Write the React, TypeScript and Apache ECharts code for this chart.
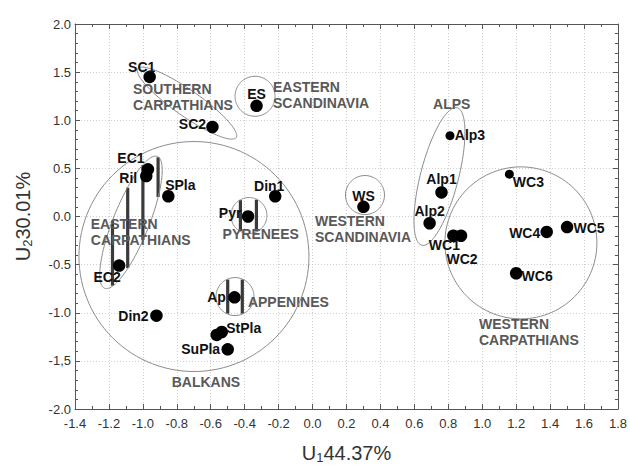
import React, { useEffect, useRef } from 'react';
import * as echarts from 'echarts';

// ---------- axes ----------
const X_MIN = -1.4;
const X_MAX = 1.8;
const X_STEP = 0.2;
const Y_MIN = -2.0;
const Y_MAX = 2.0;
const Y_STEP = 0.5;
const xTickLabels = ['-1.4', '-1.2', '-1.0', '-0.8', '-0.6', '-0.4', '-0.2', '0.0', '0.2', '0.4', '0.6', '0.8', '1.0', '1.2', '1.4', '1.6', '1.8'];
const yTickLabels = ['-2.0', '-1,5', '-1.0', '-0.5', '0.0', '0.5', '1.0', '1.5', '2.0'];
const xAxisName = ['U', '1', '44.37%'];
const yAxisName = ['U', '2', '30.01%'];

// ---------- points ----------
const pointNames = ['SC1', 'ES', 'SC2', 'EC1', 'Ril', 'SPla', 'Din1', 'Pyr', 'WS', 'Alp3', 'Alp1', 'Alp2', 'WC3', 'WC4', 'WC5', 'WC1', 'WC2', 'WC6', 'EC2', 'Ap', 'Din2', 'StPla', '', 'SuPla'];
const pointX = [-0.96, -0.33, -0.59, -0.97, -0.98, -0.85, -0.22, -0.38, 0.30, 0.81, 0.76, 0.69, 1.16, 1.38, 1.50, 0.83, 0.875, 1.20, -1.14, -0.46, -0.92, -0.535, -0.565, -0.50];
const pointY = [1.45, 1.15, 0.93, 0.49, 0.42, 0.21, 0.21, 0.0, 0.10, 0.84, 0.25, -0.07, 0.44, -0.16, -0.11, -0.20, -0.20, -0.59, -0.51, -0.84, -1.03, -1.20, -1.23, -1.38];

// ---------- groups ----------
const groupNames = ['SOUTHERN\nCARPATHIANS', 'EASTERN\nSCANDINAVIA', 'ALPS', 'WESTERN\nSCANDINAVIA', 'EASTERN\nCARPATHIANS', 'PYRENEES', 'APPENINES', 'BALKANS', 'WESTERN\nCARPATHIANS'];
const groupCenterX = [-0.740, -0.339, 0.748, 0.309, -1.070, -0.375, -0.457, -0.699, 1.228];
const groupCenterY = [1.178, 1.249, 0.416, 0.223, -0.061, 0.010, -0.832, -0.416, -0.274];
const groupLabelX = [-1.058, -0.233, 0.710, 0.014, -1.307, -0.530, -0.381, -0.830, 0.981];
const groupLabelY = [1.411, 1.428, 1.256, 0.041, 0.007, -0.094, -0.802, -1.635, -1.036];

// ---------- styling (pixels) ----------
type Shape = { a: number; b: number; angle: number; hatch?: { phase: number; spacing: number } };
const groupShapes: Shape[] = [
  { a: 60, b: 13, angle: 35 },
  { a: 20, b: 20, angle: 0 },
  { a: 71, b: 19, angle: 104.4 },
  { a: 19.5, b: 19.5, angle: 0 },
  { a: 71, b: 18, angle: 111.8, hatch: { phase: -3.3, spacing: 15.2 } },
  { a: 18, b: 18, angle: 0, hatch: { phase: -8.5, spacing: 16 } },
  { a: 19, b: 19, angle: 0, hatch: { phase: -7.3, spacing: 14.6 } },
  { a: 115, b: 115, angle: 0 },
  { a: 76, b: 76, angle: 0 },
];

const labelOffset: Record<string, [number, number]> = {
  SC1: [-8, -10], ES: [0, -12], SC2: [-20, -3], EC1: [-17, -11], Ril: [-18, 2], SPla: [12, -11],
  Din1: [-6, -10], Pyr: [-18, -4], WS: [0, -11], Alp3: [20, -1], Alp1: [0, -13], Alp2: [0, -12],
  WC3: [19, 8], WC4: [-22, 1], WC5: [22, 1], WC1: [-9, 9], WC2: [1, 23], WC6: [21, 3],
  EC2: [-12, 11], Ap: [-18, 0], Din2: [-23, 0], StPla: [22, -4], SuPla: [-27, 0],
};
const smallPoints: Record<string, number> = { Alp3: 9, WC3: 9 };

const FONT = '"Liberation Sans", Arial, Helvetica, sans-serif';

function buildOption() {
  const scatterData = pointNames.map((n, i) => {
    const off = labelOffset[n] || [0, 0];
    return {
      name: n,
      value: [pointX[i], pointY[i]],
      symbolSize: smallPoints[n] || 12.5,
      label: {
        show: n !== '',
        position: 'inside',
        offset: off,
        formatter: n,
        color: '#111',
        fontSize: 14,
        lineHeight: 13,
        fontWeight: 'bold',
        fontFamily: FONT,
        align: 'center',
        verticalAlign: 'middle',
      },
    };
  });

  const groupData = groupNames.map((_, i) => [groupCenterX[i], groupCenterY[i]]);

  const renderItem = (params: any, api: any) => {
    const i = params.dataIndex;
    const c = api.coord([groupCenterX[i], groupCenterY[i]]);
    const sh = groupShapes[i];
    const th = (sh.angle * Math.PI) / 180;
    const cs = Math.cos(th);
    const sn = Math.sin(th);
    const pts: number[][] = [];
    const N = 120;
    for (let k = 0; k < N; k++) {
      const t = (k / N) * Math.PI * 2;
      pts.push([
        c[0] + sh.a * Math.cos(t) * cs - sh.b * Math.sin(t) * sn,
        c[1] + sh.a * Math.cos(t) * sn + sh.b * Math.sin(t) * cs,
      ]);
    }
    const children: any[] = [];
    if (sh.hatch) {
      const A = (sn * sn) / (sh.a * sh.a) + (cs * cs) / (sh.b * sh.b);
      const kk = 1 / (sh.a * sh.a) - 1 / (sh.b * sh.b);
      const Cq = (cs * cs) / (sh.a * sh.a) + (sn * sn) / (sh.b * sh.b);
      const maxR = Math.max(sh.a, sh.b);
      for (let j = -20; j <= 20; j++) {
        const x = sh.hatch.phase + j * sh.hatch.spacing;
        if (Math.abs(x) > maxR) continue;
        const B = 2 * x * cs * sn * kk;
        const C = x * x * Cq - 1;
        const disc = B * B - 4 * A * C;
        if (disc <= 0) continue;
        const r = Math.sqrt(disc);
        const y1 = (-B - r) / (2 * A);
        const y2 = (-B + r) / (2 * A);
        children.push({
          type: 'line',
          shape: { x1: c[0] + x, y1: c[1] + y1 + 0.5, x2: c[0] + x, y2: c[1] + y2 - 0.5 },
          style: { stroke: '#3a3a3a', lineWidth: 3.2 },
        });
      }
    }
    children.push({
      type: 'polygon',
      shape: { points: pts },
      style: { fill: 'none', stroke: '#8c8c8c', lineWidth: 1 },
    });
    const l = api.coord([groupLabelX[i], groupLabelY[i]]);
    children.push({
      type: 'text',
      x: l[0],
      y: l[1],
      style: {
        text: groupNames[i],
        fill: '#595959',
        fontSize: 14,
        fontWeight: 'bold',
        fontFamily: FONT,
        lineHeight: 16,
        align: 'left',
        verticalAlign: 'top',
      },
    });
    return { type: 'group', children };
  };

  const xFmt = (v: number) => xTickLabels[Math.round((v - X_MIN) / X_STEP)] ?? '';
  const yFmt = (v: number) => yTickLabels[Math.round((v - Y_MIN) / Y_STEP)] ?? '';

  const nameRich = {
    a: { fontSize: 20, fontFamily: FONT, color: '#333', lineHeight: 22 },
    s: { fontSize: 13, fontFamily: FONT, color: '#333', lineHeight: 13, verticalAlign: 'bottom' },
  };

  const axisCommon = {
    type: 'value',
    axisLine: { show: true, onZero: false, lineStyle: { color: '#555', width: 1 } },
    axisTick: { show: true, inside: true, length: 5, lineStyle: { color: '#555' } },
    minorTick: { show: true, length: 3, lineStyle: { color: '#555' } },
  };

  return {
    animation: false,
    backgroundColor: '#ffffff',
    grid: { left: 75, right: 12, top: 24, bottom: 51, containLabel: false },
    xAxis: [
      {
        ...axisCommon,
        position: 'bottom',
        min: X_MIN,
        max: X_MAX,
        interval: X_STEP,
        minorTick: { ...axisCommon.minorTick, splitNumber: 2 },
        splitLine: { show: true, lineStyle: { color: '#cfcfcf', type: [1, 2], width: 1 } },
        axisLabel: { formatter: xFmt, fontSize: 13, color: '#333', fontFamily: FONT, margin: 8 },
        name: `{a|${xAxisName[0]}}{s|${xAxisName[1]}}{a|${xAxisName[2]}}`,
        nameLocation: 'middle',
        nameGap: 33,
        nameTextStyle: { rich: nameRich },
      },
      {
        ...axisCommon,
        position: 'top',
        min: X_MIN,
        max: X_MAX,
        interval: X_STEP,
        minorTick: { ...axisCommon.minorTick, splitNumber: 2 },
        splitLine: { show: false },
        axisLabel: { show: false },
      },
    ],
    yAxis: [
      {
        ...axisCommon,
        position: 'left',
        min: Y_MIN,
        max: Y_MAX,
        interval: Y_STEP,
        minorTick: { ...axisCommon.minorTick, splitNumber: 5 },
        splitLine: { show: true, lineStyle: { color: '#cfcfcf', type: [1, 2], width: 1 } },
        axisLabel: { formatter: yFmt, fontSize: 13, color: '#333', fontFamily: FONT, margin: 4 },
        name: `{a|${yAxisName[0]}}{s|${yAxisName[1]}}{a|${yAxisName[2]}}`,
        nameLocation: 'middle',
        nameRotate: 90,
        nameGap: 41,
        nameTextStyle: { rich: nameRich },
      },
      {
        ...axisCommon,
        position: 'right',
        min: Y_MIN,
        max: Y_MAX,
        interval: Y_STEP,
        minorTick: { ...axisCommon.minorTick, splitNumber: 5 },
        splitLine: { show: false },
        axisLabel: { show: false },
      },
    ],
    series: [
      {
        type: 'custom',
        xAxisIndex: 0,
        yAxisIndex: 0,
        z: 2,
        silent: true,
        renderItem,
        encode: { x: 0, y: 1 },
        data: groupData,
      },
      {
        type: 'scatter',
        xAxisIndex: 0,
        yAxisIndex: 0,
        z: 3,
        symbol: 'circle',
        itemStyle: { color: '#000', opacity: 1 },
        data: scatterData,
      },
    ],
  };
}

export default function App() {
  const ref = useRef<HTMLDivElement>(null);
  useEffect(() => {
    if (!ref.current) return;
    const chart = echarts.init(ref.current, undefined, { renderer: 'svg' });
    chart.setOption(buildOption() as any);
    return () => chart.dispose();
  }, []);
  return <div ref={ref} style={{ position: 'absolute', left: 0, top: 0, width: 630, height: 469 }} />;
}
